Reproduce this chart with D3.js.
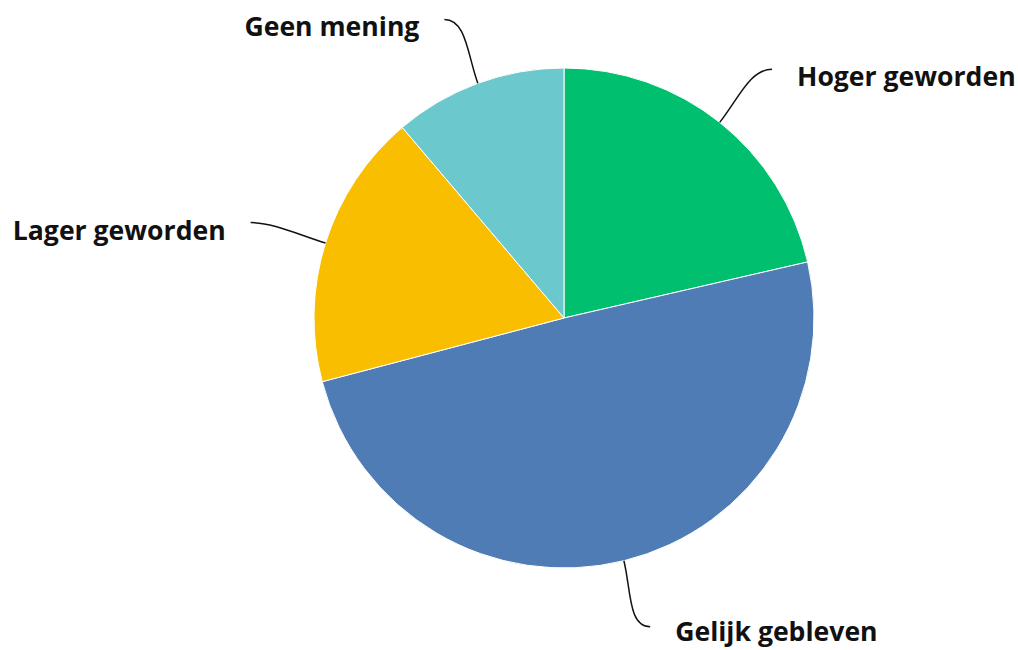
<!DOCTYPE html>
<meta charset="utf-8">
<script src="https://d3js.org/d3.v7.min.js"></script>
<style>
  body { margin: 0; background: #fff; }
  .label { font-family: "Open Sans", sans-serif; font-weight: 700; font-size: 26.6px; fill: #111; }
</style>
<div id="chart"></div>
<script>
  // data (percentages)
  const categories = ["Hoger geworden", "Gelijk gebleven", "Lager geworden", "Geen mening"];
  const values = [21.4, 49.5, 17.9, 11.2];

  const palette = ["#00BF6F", "#507CB6", "#F9BE00", "#6BC8CD"];

  const width = 1018, height = 650;
  const cx = 564, cy = 318, radius = 250;

  const data = categories.map((c, i) => ({name: c, value: values[i]}));

  const color = d3.scaleOrdinal()
    .domain(categories)
    .range(palette);

  const svg = d3.select("#chart")
    .append("svg")
      .attr("width", width)
      .attr("height", height)
    .append("g")
      .attr("transform", `translate(${cx},${cy})`);

  const pie = d3.pie()
    .sort(null)
    .value(d => d.value);

  const arc = d3.arc()
    .innerRadius(0)
    .outerRadius(radius);

  // points on the rim and just outside it, used for the leader lines
  const rimArc = d3.arc().innerRadius(radius).outerRadius(radius);
  const outerArc = d3.arc().innerRadius(318).outerRadius(318);

  const arcs = pie(data);

  svg.selectAll("path.slice")
    .data(arcs)
    .join("path")
      .attr("class", "slice")
      .attr("d", arc)
      .attr("fill", d => color(d.data.name))
      .attr("stroke", "#fff")
      .attr("stroke-width", 1);

  const midAngle = d => (d.startAngle + d.endAngle) / 2;
  const side = d => midAngle(d) < Math.PI ? 1 : -1;

  function leader(d) {
    const a = midAngle(d);
    const [x0, y0] = rimArc.centroid(d);
    let [x1, y1] = outerArc.centroid(d);
    x1 += side(d) * 10;
    const c1 = [x0 + Math.sin(a) * 30, y0 - Math.cos(a) * 30];
    const c2 = [x1 - side(d) * 22, y1];
    const p = d3.path();
    p.moveTo(x0, y0);
    p.bezierCurveTo(c1[0], c1[1], c2[0], c2[1], x1, y1);
    return p.toString();
  }

  svg.selectAll("path.leader")
    .data(arcs)
    .join("path")
      .attr("class", "leader")
      .attr("d", leader)
      .attr("fill", "none")
      .attr("stroke", "#111")
      .attr("stroke-width", 1.5);

  // keep the lowest label inside the frame
  const maxY = height - cy - 19;

  svg.selectAll("text.label")
    .data(arcs)
    .join("text")
      .attr("class", "label")
      .attr("x", d => outerArc.centroid(d)[0] + side(d) * 35)
      .attr("y", d => Math.min(outerArc.centroid(d)[1] + 7, maxY))
      .attr("dominant-baseline", "central")
      .attr("text-anchor", d => side(d) > 0 ? "start" : "end")
      .text(d => d.data.name);
</script>
